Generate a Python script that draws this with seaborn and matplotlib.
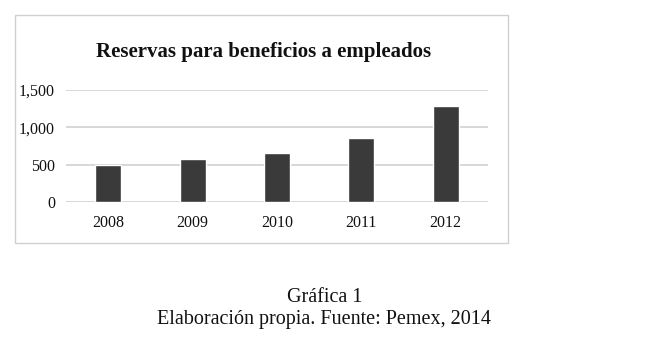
import matplotlib
matplotlib.use("Agg")
import matplotlib.pyplot as plt
import seaborn as sns
import pandas as pd
from matplotlib.patches import Rectangle

years = ["2008", "2009", "2010", "2011", "2012"]
reserves = [490, 575, 652, 857, 1281]
yticks = [0, 500, 1000, 1500]
ytick_labels = ["0", "500", "1,000", "1,500"]

sns.set_theme(style="white")
plt.rcParams["font.family"] = ["Liberation Serif", "DejaVu Serif"]

fig = plt.figure(figsize=(6.54, 3.46), dpi=100)
fig.patch.set_facecolor("white")

# outer chart frame
fig.patches.append(Rectangle((0.023, 0.298), 0.754, 0.659, transform=fig.transFigure,
                             fill=False, edgecolor="#d0d0d0", linewidth=1.0))

ax = fig.add_axes([0.101, 0.416, 0.645, 0.324])
df = pd.DataFrame({"year": years, "value": reserves})
sns.barplot(data=df, x="year", y="value", color="#3a3a3a", width=0.31,
            saturation=1, ax=ax, zorder=3)
ax.set_ylim(0, 1500)
ax.set_yticks(yticks)
ax.set_yticklabels(ytick_labels)
ax.yaxis.grid(True, color="#d4d4d4", linewidth=1.3, zorder=0)
ax.set_axisbelow(True)
for s in ax.spines.values():
    s.set_visible(False)
ax.set_xlabel("")
ax.set_ylabel("")
ax.tick_params(axis="both", length=0, labelsize=11.5, colors="#111111")
ax.tick_params(axis="x", pad=9)
ax.tick_params(axis="y", pad=8)
ax.set_xlim(-0.5, 4.5)

fig.text(0.403, 0.85, "Reservas para beneficios a empleados", ha="center", va="center",
         fontsize=15, fontweight="bold", color="#111111")
fig.text(0.496, 0.139, "Gráfica 1", ha="center", va="center", fontsize=14.5, color="#111111")
fig.text(0.496, 0.077, "Elaboración propia. Fuente: Pemex, 2014", ha="center", va="center",
         fontsize=14.5, color="#111111")

fig.savefig("out.png", dpi=100, facecolor="white")
